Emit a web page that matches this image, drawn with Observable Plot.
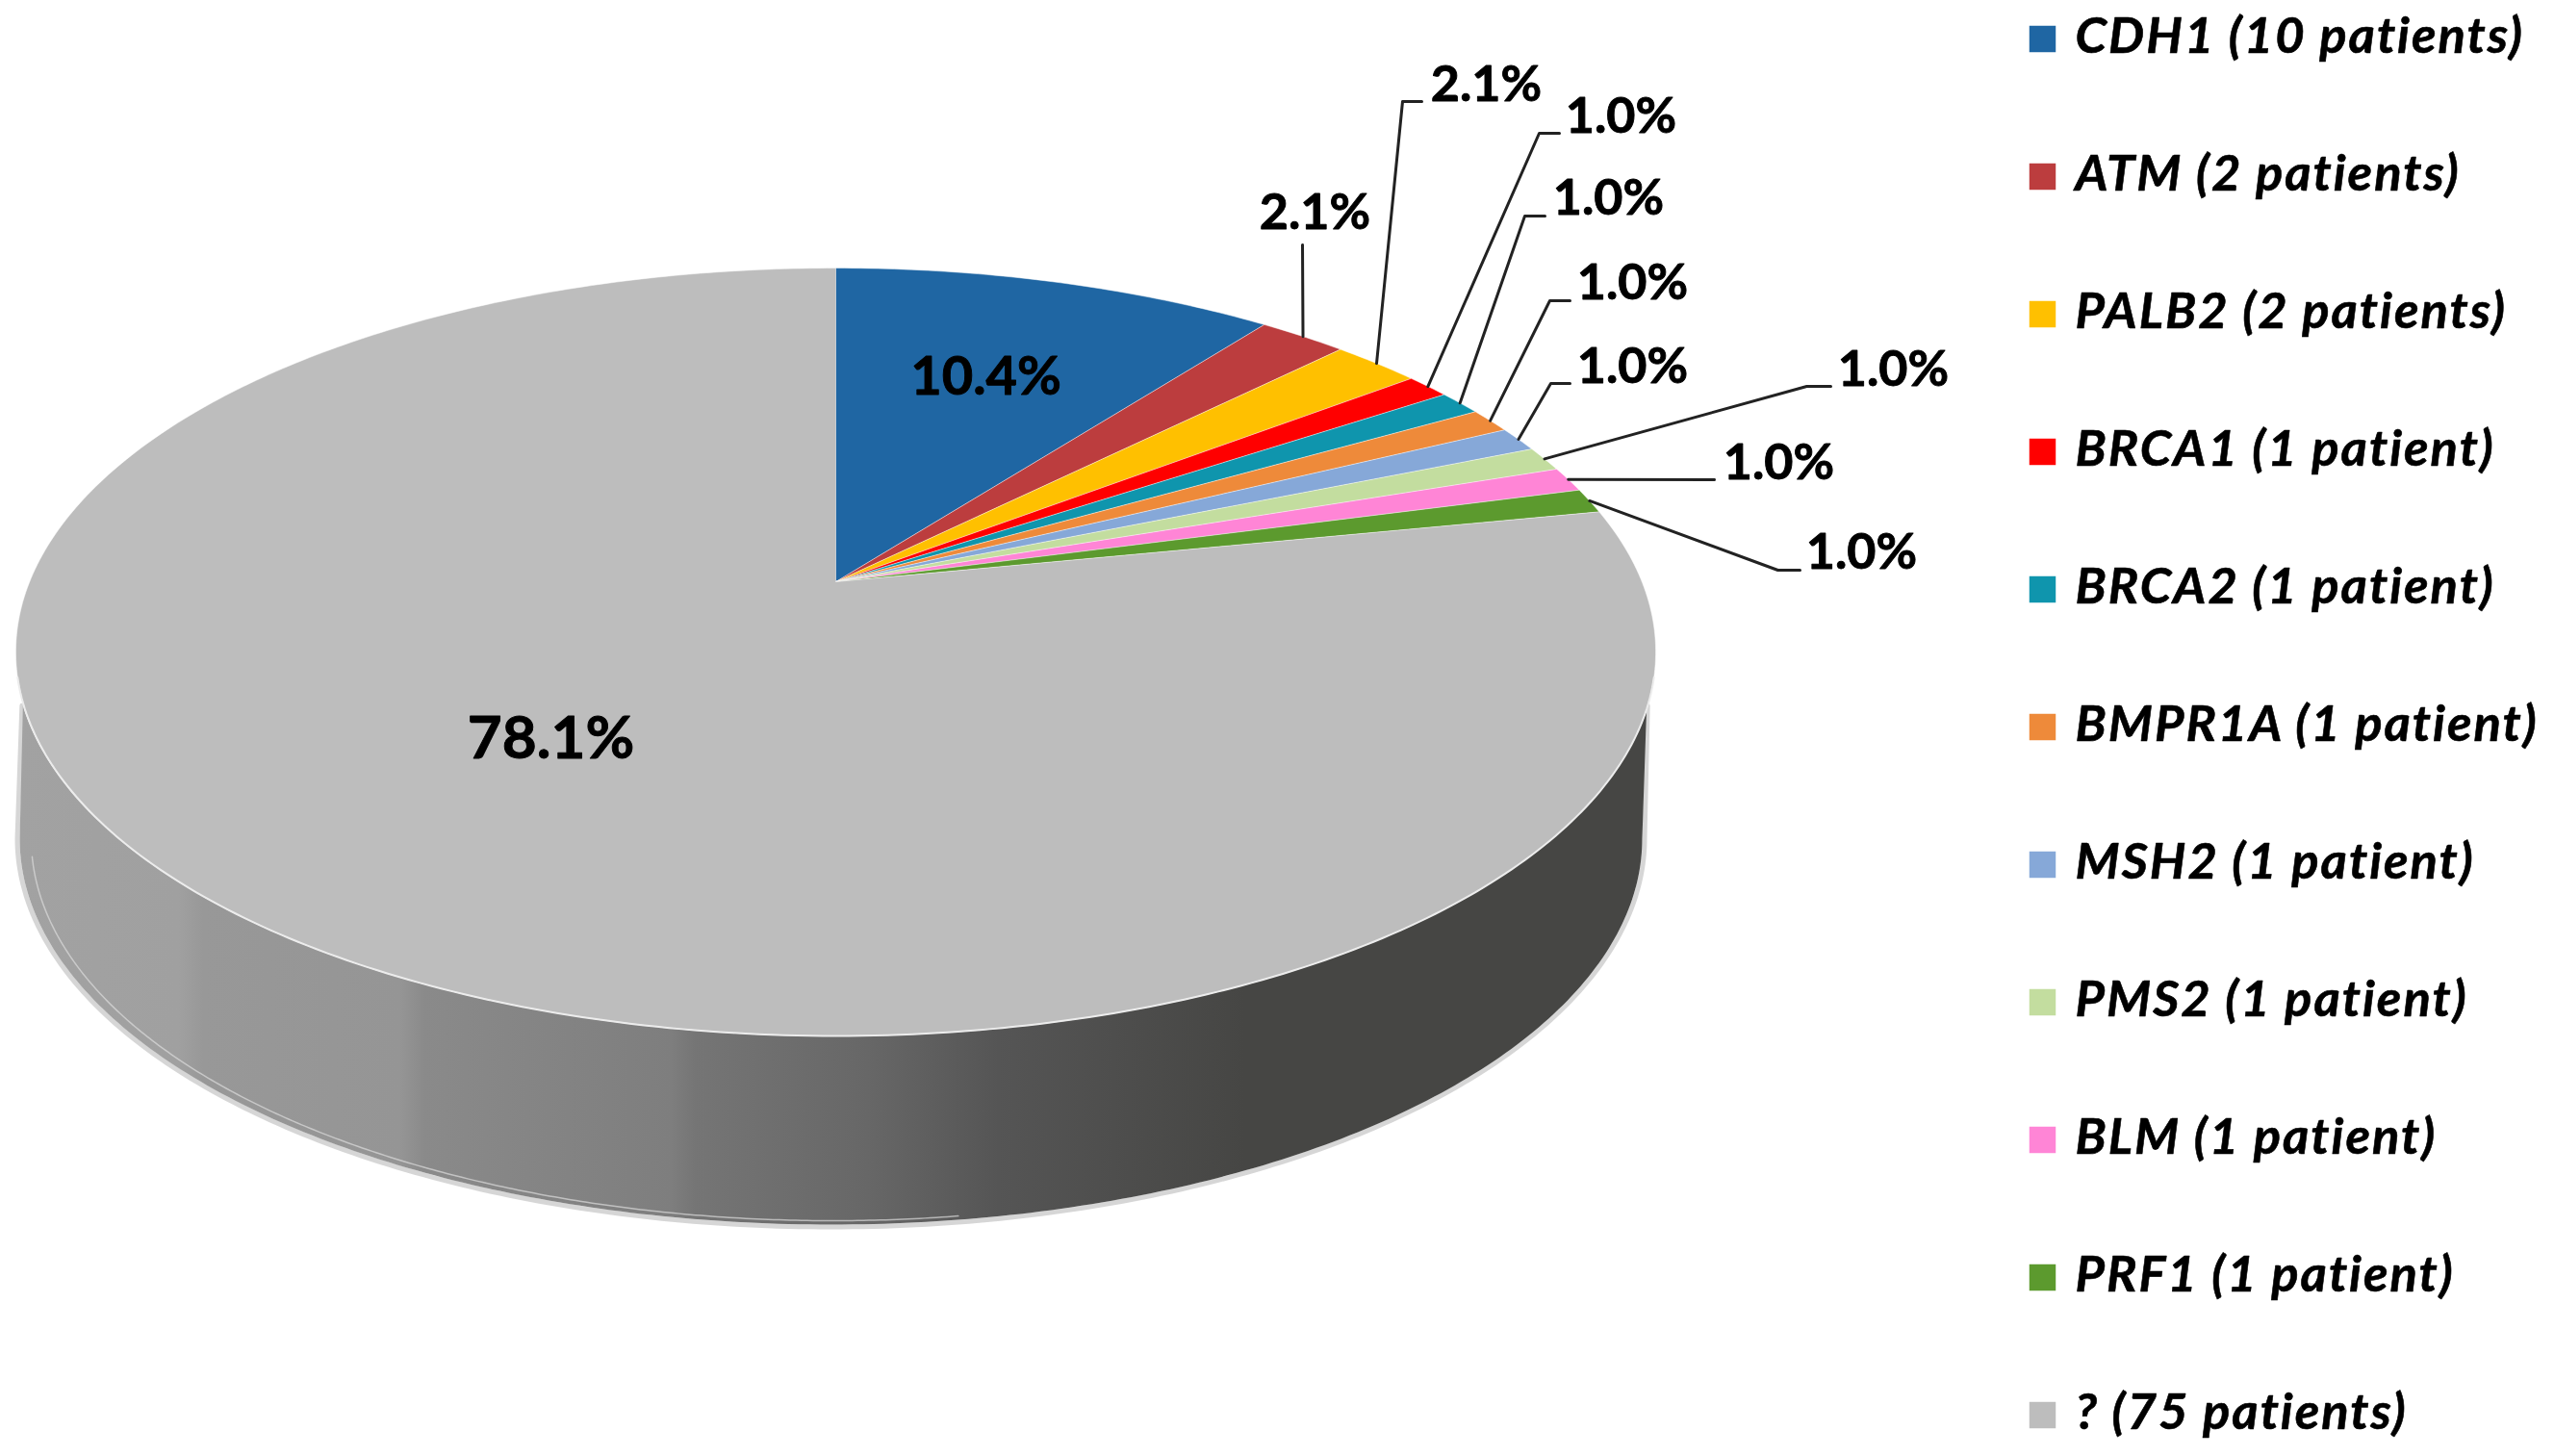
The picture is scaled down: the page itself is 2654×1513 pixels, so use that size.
<!DOCTYPE html>
<html>
<head>
<meta charset="utf-8">
<script src="https://cdn.jsdelivr.net/npm/d3@7"></script>
<script src="https://cdn.jsdelivr.net/npm/@observablehq/plot@0.6"></script>
<style>
html,body{margin:0;padding:0;background:#fff}
svg{display:block}
g[font-style="italic"]{letter-spacing:2px}
</style>
</head>
<body>
<div id="chart"></div>
<script>
// ---- data ----
const genes = ["CDH1","ATM","PALB2","BRCA1","BRCA2","BMPR1A","MSH2","PMS2","BLM","PRF1","?"];
const patients = [10,2,2,1,1,1,1,1,1,1,75];
const colors = ["#1f66a3","#bc3d3e","#ffc000","#ff0000","#0f95ad","#ee8a3a","#86a8d8","#c3dd9f","#ff85d6","#5c9a2e","#bdbdbd"];
const sideStops = [[0,"#a2a2a2"],[0.10,"#a0a0a0"],[0.115,"#989898"],[0.235,"#959595"],[0.25,"#8a8a8a"],[0.40,"#7e7e7e"],[0.415,"#757575"],[0.52,"#676767"],[0.60,"#555555"],[0.75,"#464644"],[1,"#464644"]];

// ---- layout (chart units = px of the 2654x1513 frame) ----
const W = 2654, H = 1513;
const pie = {apexX:868, apexY:604, A:837.7, B:385.6, k:0.183};
const topEllipse = {cx:867, cy:677, rx:852, ry:399};
const baseEllipse = {cx:863, cy:871, rx:843, ry:401};
const seamEllipse = {cx:865, cy:871, rx:833, ry:397};
const inside = {CDH1:[1024,392,56], "?":[572,768,62]};
const callouts = {
  ATM:   {at:[1366,221], path:[[1353,254]]},
  PALB2: {at:[1544,88],  path:[[1477,105],[1457,105]]},
  BRCA1: {at:[1684,121], path:[[1620,138],[1599,138]]},
  BRCA2: {at:[1671,206], path:[[1605,224],[1584,224]]},
  BMPR1A:{at:[1696,294], path:[[1631,312],[1610,312]]},
  MSH2:  {at:[1696,381], path:[[1631,398],[1611,398]]},
  PMS2:  {at:[1967,384], path:[[1902,401],[1877,401]]},
  BLM:   {at:[1848,481], path:[[1781,498]]},
  PRF1:  {at:[1934,574], path:[[1870,592],[1847,592]]}
};
const legend = {swatchX:2122, textX:2156, firstY:38, lastY:1468, swatchDy:2, fontSize:52.5};

// ---- derived ----
const total = d3.sum(patients);
const pct = d3.format(".1%");
const legendText = genes.map((g,i)=>`${g} (${patients[i]} patient${patients[i]>1?"s":""})`);
const arcs = d3.pie().sort(null).value(d=>d)(patients);
// perspective projection of a point on the round pie's rim (angle clockwise from 12 o'clock)
function rim(a){
  const u=Math.sin(a), v=Math.cos(a), w=1+pie.k*v;
  return [pie.apexX+pie.A*u/w, pie.apexY-pie.B*v/w];
}
const wedgePts = [];
genes.forEach((g,i)=>{
  const {startAngle:s,endAngle:e}=arcs[i];
  const n=Math.max(4,Math.ceil((e-s)*80));
  wedgePts.push({g,x:pie.apexX,y:pie.apexY});
  for(let j=0;j<=n;j++){const [x,y]=rim(s+(e-s)*j/n); wedgePts.push({g,x,y});}
});
const ell=(E,a,dr=0)=>({x:E.cx+(E.rx+dr)*Math.cos(a),y:E.cy+(E.ry+dr)*Math.sin(a)});
const a0=0.14, steps=240;
const sidePts=[];
for(let j=0;j<=steps;j++) sidePts.push(ell(topEllipse,a0+(Math.PI-2*a0)*j/steps));
for(let j=0;j<=steps;j++) sidePts.push(ell(baseEllipse,Math.PI-Math.PI*j/steps));
const arcPts=(E,from,to,dr=0)=>d3.range(steps+1).map(j=>ell(E,from+(to-from)*j/steps,dr));
const rimPts=d3.range(481).map(j=>{const [x,y]=rim(2*Math.PI*j/480);return {x,y};});
const haloPts=[ell(topEllipse,a0,1),...arcPts(baseEllipse,0,Math.PI,2.5),ell(topEllipse,Math.PI-a0,1)];

const leaderPts=[];
const calloutRows=[];
genes.forEach((g,i)=>{
  const c=callouts[g]; if(!c) return;
  c.path.forEach(([x,y])=>leaderPts.push({g,x,y}));
  const [x,y]=rim((arcs[i].startAngle+arcs[i].endAngle)/2);
  leaderPts.push({g,x,y});
  calloutRows.push({x:c.at[0],y:c.at[1],t:pct(patients[i]/total)});
});
const insideRows=genes.map((g,i)=>inside[g]?{x:inside[g][0],y:inside[g][1],s:inside[g][2],t:pct(patients[i]/total)}:null).filter(Boolean);
const rowY=d3.scalePoint(genes,[legend.firstY,legend.lastY]);
const legendRows=genes.map((g,i)=>({g,y:rowY(g),t:legendText[i]}));

const font="Lato, Carlito, sans-serif";
const chart=Plot.plot({
  width:W,height:H,margin:0,
  style:{background:"#fff",fontFamily:font},
  x:{axis:null,domain:[0,W],range:[0,W]},
  y:{axis:null,domain:[0,H],range:[0,H]},
  color:{domain:genes,range:colors},
  marks:[
    Plot.line(haloPts,{x:"x",y:"y",stroke:"#c4c4c4",strokeWidth:5,strokeOpacity:0.7}),
    Plot.line(sidePts,{x:"x",y:"y",fill:"url(#pieSide)",stroke:"none"}),
    Plot.line(arcPts(seamEllipse,Math.PI*0.45,Math.PI*0.985),{x:"x",y:"y",stroke:"#dcdcdc",strokeWidth:1.5,strokeOpacity:0.7}),
    Plot.line(wedgePts,{x:"x",y:"y",z:"g",fill:"g",stroke:"#fff",strokeWidth:1,strokeOpacity:0.5,strokeLinejoin:"round"}),
    Plot.line(rimPts.filter(p=>p.y>700),{x:"x",y:"y",stroke:"#ececec",strokeWidth:2}),
    Plot.line(leaderPts,{x:"x",y:"y",z:"g",stroke:"#222",strokeWidth:3}),
    Plot.text(calloutRows,{x:"x",y:"y",text:"t",fontSize:52,fontWeight:700,fill:"#000",stroke:"#000",strokeWidth:0.9,fontFamily:font}),
    Plot.text(insideRows,{x:"x",y:"y",text:"t",fontSize:"s",fontWeight:700,fill:"#000",stroke:"#000",strokeWidth:0.9,fontFamily:font}),
    Plot.dot(legendRows,{x:()=>legend.swatchX,y:d=>d.y+legend.swatchDy,fill:"g",r:15.5,symbol:"square",stroke:"none"}),
    Plot.text(legendRows,{x:()=>legend.textX,y:"y",text:"t",textAnchor:"start",fontSize:legend.fontSize,fontWeight:700,fontStyle:"italic",fill:"#000",stroke:"#000",strokeWidth:0.6,fontFamily:font})
  ]
});
// horizontal shading of the pie's wall
const ns="http://www.w3.org/2000/svg";
const defs=document.createElementNS(ns,"defs");
const grad=document.createElementNS(ns,"linearGradient");
grad.setAttribute("id","pieSide");
grad.setAttribute("gradientUnits","userSpaceOnUse");
grad.setAttribute("x1",topEllipse.cx-topEllipse.rx);grad.setAttribute("x2",topEllipse.cx+topEllipse.rx);
grad.setAttribute("y1",0);grad.setAttribute("y2",0);
sideStops.forEach(([o,c])=>{const s=document.createElementNS(ns,"stop");s.setAttribute("offset",o);s.setAttribute("stop-color",c);grad.appendChild(s);});
defs.appendChild(grad);chart.insertBefore(defs,chart.firstChild);
document.getElementById("chart").appendChild(chart);
</script>
</body>
</html>
